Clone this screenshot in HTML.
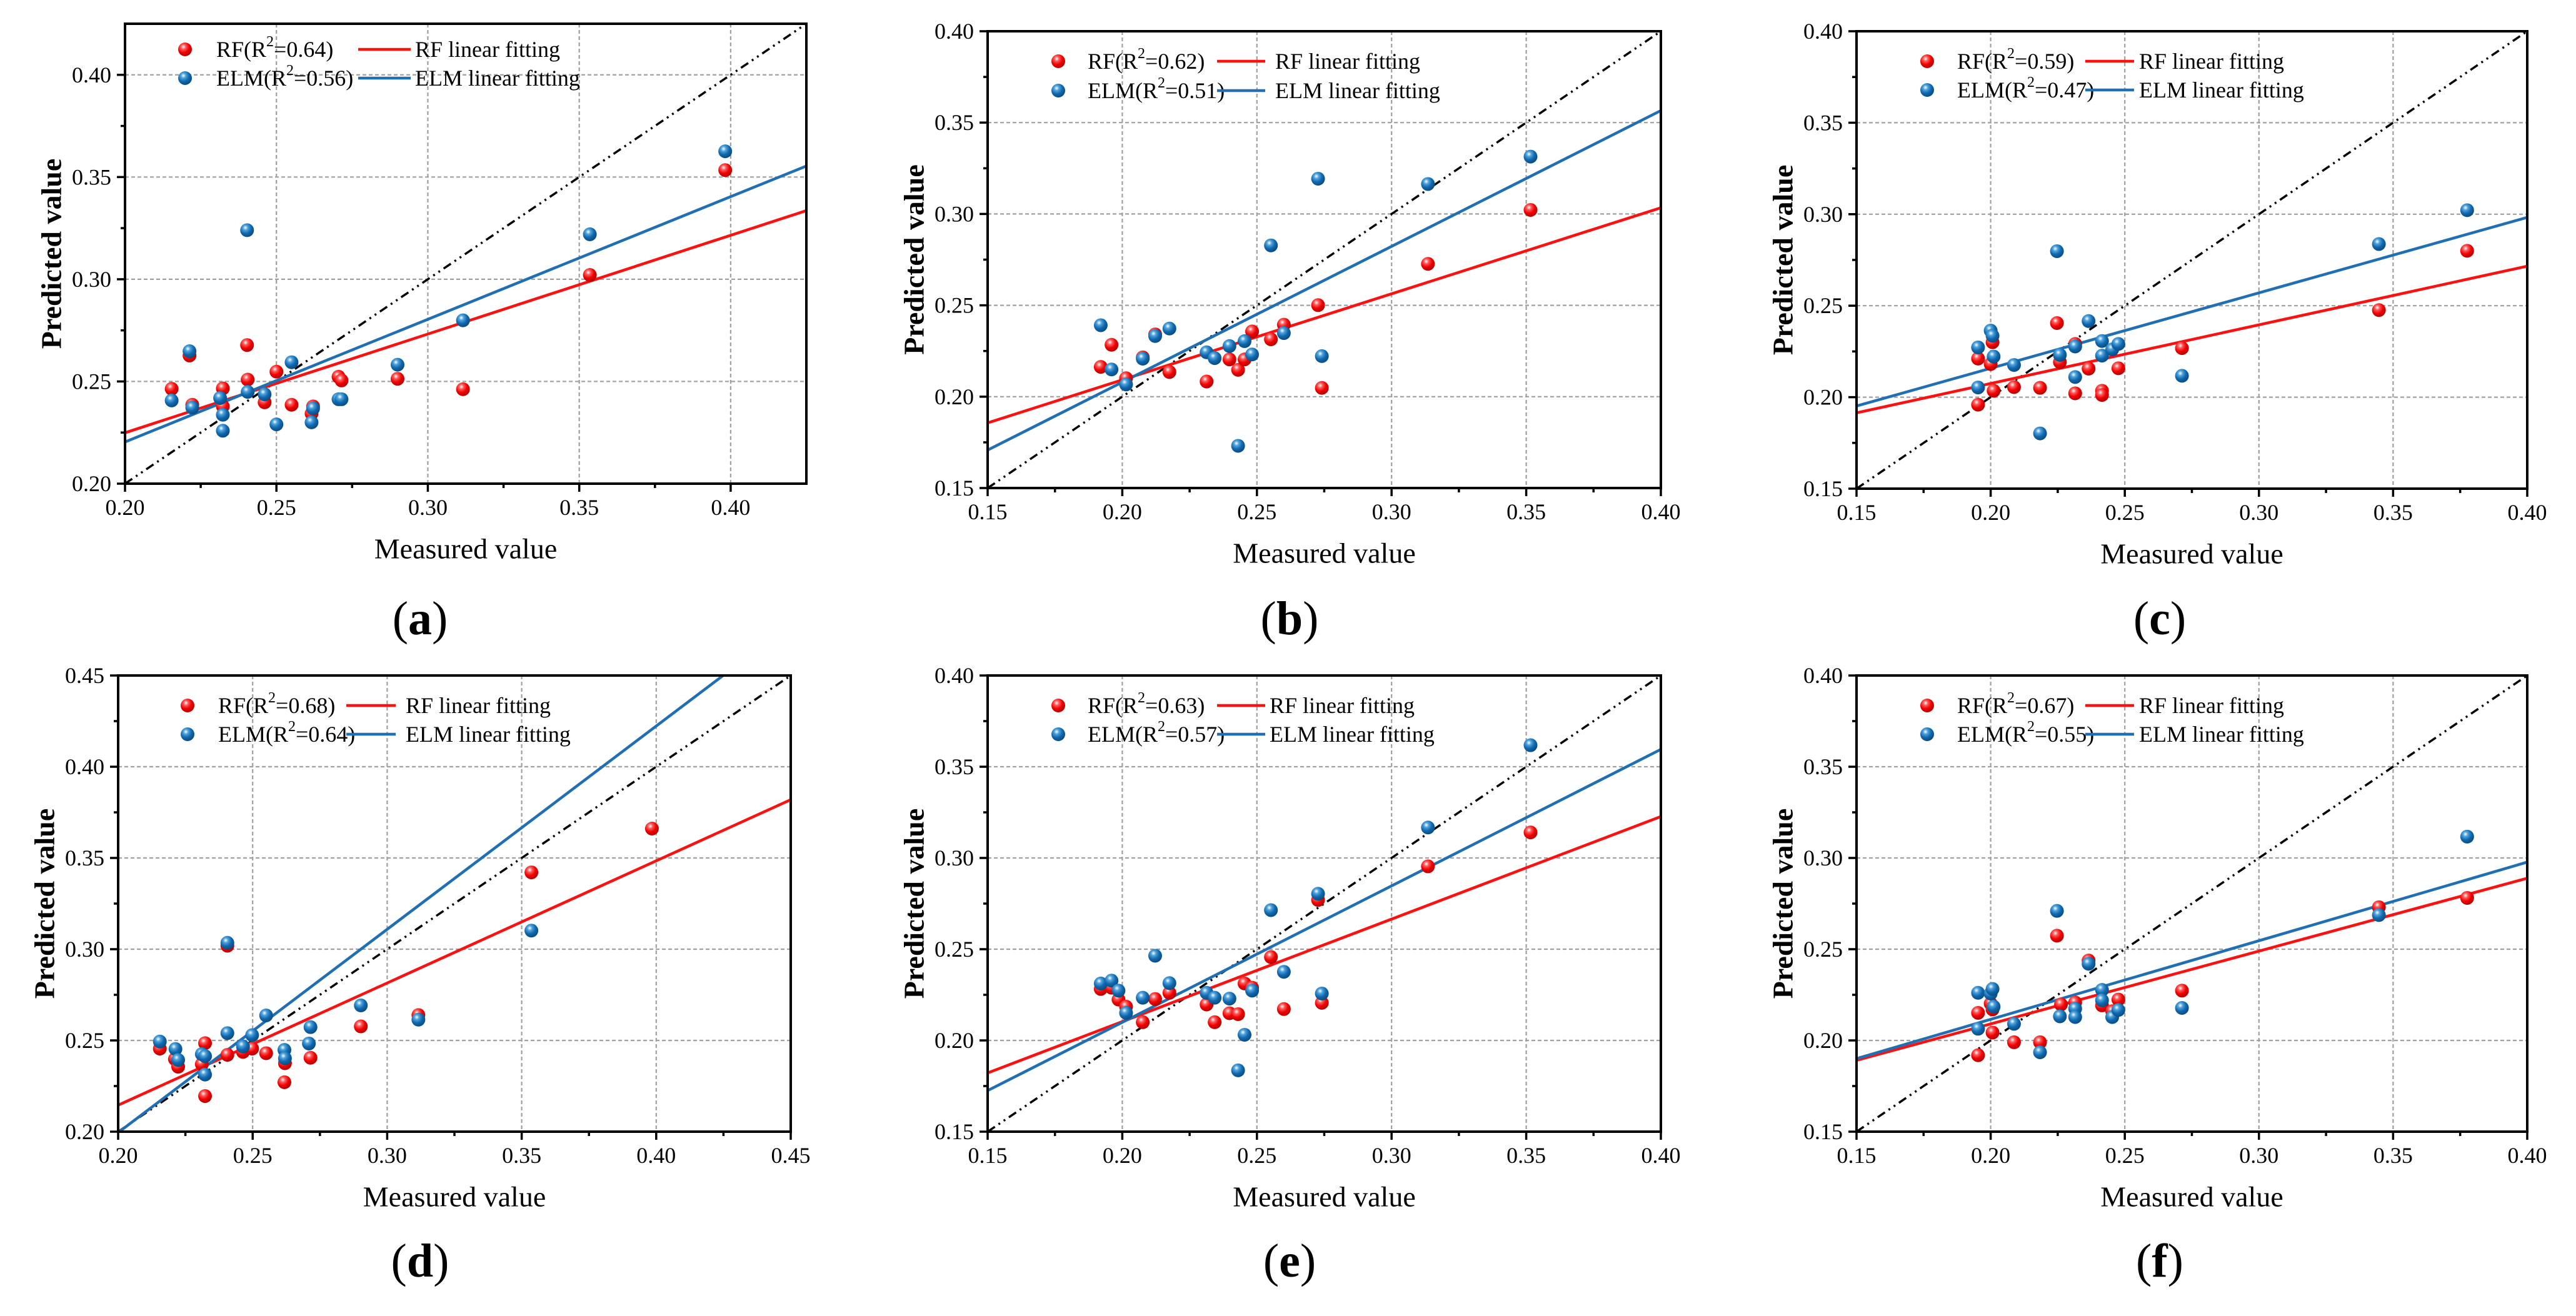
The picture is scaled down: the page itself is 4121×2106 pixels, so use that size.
<!DOCTYPE html>
<html><head><meta charset="utf-8"><style>
html,body{margin:0;padding:0;background:#fff;}
svg{display:block;font-family:"Liberation Serif","Times New Roman",serif;}
</style></head><body>
<svg id="fig" xmlns="http://www.w3.org/2000/svg" width="4121" height="2106" viewBox="0 0 4121 2106">
<defs>
<radialGradient id="gRed" cx="0.38" cy="0.32" r="0.7"><stop offset="0" stop-color="#ffffff"/><stop offset="0.25" stop-color="#ff5a5a"/><stop offset="0.6" stop-color="#f00000"/><stop offset="1" stop-color="#b00000"/></radialGradient>
<radialGradient id="gBlue" cx="0.38" cy="0.32" r="0.7"><stop offset="0" stop-color="#ffffff"/><stop offset="0.25" stop-color="#4fa3dd"/><stop offset="0.6" stop-color="#1068ad"/><stop offset="1" stop-color="#084a80"/></radialGradient>
</defs>
</svg>
<script>
// ---------- data (measured, predicted) ----------
const aMeasRF=[0.2154,0.2213,0.2222,0.2323,0.2323,0.2403,0.2405,0.2461,0.2500,0.2550,0.2616,0.2621,0.2705,0.2715,0.2900,0.3116,0.3535,0.3982];
const aPredRF=[0.2464,0.2627,0.2386,0.2466,0.2378,0.2678,0.2509,0.2398,0.2548,0.2386,0.2343,0.2378,0.2523,0.2505,0.2513,0.2462,0.3021,0.3534];
const aMeasELM=[0.2154,0.2213,0.2222,0.2314,0.2323,0.2323,0.2403,0.2405,0.2461,0.2500,0.2550,0.2616,0.2621,0.2705,0.2715,0.2900,0.3116,0.3535,0.3982];
const aPredELM=[0.2407,0.2648,0.2372,0.2419,0.2337,0.2259,0.3240,0.2449,0.2437,0.2290,0.2594,0.2300,0.2368,0.2413,0.2413,0.2582,0.2799,0.3220,0.3626];

const bMeasRF=[0.1920,0.1960,0.2014,0.2076,0.2122,0.2175,0.2313,0.2398,0.2430,0.2454,0.2482,0.2552,0.2600,0.2727,0.2741,0.3135,0.3516];
const bPredRF=[0.2163,0.2284,0.2101,0.2215,0.2341,0.2135,0.2083,0.2204,0.2147,0.2204,0.2357,0.2314,0.2394,0.2501,0.2048,0.2727,0.3022];
const bMeasELM=[0.1920,0.1960,0.2014,0.2076,0.2122,0.2175,0.2313,0.2343,0.2398,0.2430,0.2454,0.2482,0.2552,0.2600,0.2727,0.2741,0.3135,0.3516];
const bPredELM=[0.2391,0.2149,0.2067,0.2208,0.2332,0.2373,0.2243,0.2211,0.2277,0.1731,0.2304,0.2231,0.2828,0.2348,0.3193,0.2222,0.3164,0.3314];

const cMeasRF=[0.1953,0.1953,0.2000,0.2007,0.2011,0.2087,0.2184,0.2247,0.2258,0.2315,0.2315,0.2365,0.2415,0.2415,0.2476,0.2713,0.3447,0.3776];
const cPredRF=[0.1959,0.2211,0.2181,0.2300,0.2035,0.2055,0.2051,0.2405,0.2192,0.2291,0.2021,0.2156,0.2035,0.2012,0.2158,0.2268,0.2476,0.2800];
const cMeasELM=[0.1953,0.1953,0.2000,0.2007,0.2011,0.2087,0.2184,0.2247,0.2258,0.2315,0.2315,0.2365,0.2415,0.2415,0.2453,0.2476,0.2713,0.3447,0.3776];
const cPredELM=[0.2272,0.2053,0.2364,0.2336,0.2222,0.2176,0.1802,0.2798,0.2231,0.2277,0.2110,0.2416,0.2307,0.2227,0.2261,0.2291,0.2117,0.2837,0.3022];

const dMeasRF=[0.2155,0.2211,0.2223,0.2311,0.2323,0.2323,0.2406,0.2406,0.2464,0.2498,0.2550,0.2618,0.2620,0.2715,0.2902,0.3116,0.3536,0.3984];
const dPredRF=[0.2455,0.2398,0.2356,0.2370,0.2485,0.2195,0.2421,0.3019,0.2437,0.2455,0.2430,0.2271,0.2375,0.2405,0.2577,0.2639,0.3421,0.3661];
const dMeasELM=[0.2155,0.2213,0.2223,0.2311,0.2323,0.2323,0.2406,0.2406,0.2464,0.2498,0.2550,0.2618,0.2620,0.2709,0.2715,0.2902,0.3116,0.3536];
const dPredELM=[0.2494,0.2453,0.2393,0.2425,0.2414,0.2313,0.2540,0.3035,0.2467,0.2529,0.2637,0.2448,0.2402,0.2483,0.2573,0.2692,0.2614,0.3102];

const eMeasRF=[0.1920,0.1960,0.1986,0.2014,0.2076,0.2122,0.2175,0.2313,0.2343,0.2398,0.2430,0.2454,0.2482,0.2552,0.2600,0.2727,0.2741,0.3135,0.3516];
const ePredRF=[0.2282,0.2289,0.2224,0.2185,0.2100,0.2227,0.2261,0.2197,0.2100,0.2149,0.2144,0.2312,0.2289,0.2457,0.2172,0.2770,0.2206,0.2954,0.3140];
const eMeasELM=[0.1920,0.1960,0.1986,0.2014,0.2076,0.2122,0.2175,0.2313,0.2343,0.2398,0.2430,0.2454,0.2482,0.2552,0.2600,0.2727,0.2741,0.3135,0.3516];
const ePredELM=[0.2312,0.2328,0.2273,0.2151,0.2234,0.2464,0.2314,0.2261,0.2234,0.2229,0.1836,0.2031,0.2273,0.2714,0.2376,0.2804,0.2257,0.3167,0.3618];

const fMeasRF=[0.1953,0.1953,0.2000,0.2007,0.2007,0.2087,0.2184,0.2247,0.2262,0.2315,0.2365,0.2415,0.2453,0.2476,0.2713,0.3447,0.3776];
const fPredRF=[0.1919,0.2151,0.2202,0.2170,0.2043,0.1990,0.1990,0.2574,0.2197,0.2208,0.2438,0.2192,0.2160,0.2224,0.2273,0.2730,0.2781];
const fMeasELM=[0.1953,0.1953,0.2000,0.2007,0.2011,0.2087,0.2184,0.2247,0.2258,0.2315,0.2315,0.2365,0.2415,0.2415,0.2453,0.2476,0.2713,0.3447,0.3776];
const fPredELM=[0.2261,0.2064,0.2257,0.2282,0.2185,0.2091,0.1935,0.2710,0.2132,0.2174,0.2128,0.2420,0.2277,0.2220,0.2128,0.2167,0.2178,0.2687,0.3117];

// linear fits [slope, intercept]
const fitRF=[[0.483,0.1283],[0.471,0.1150],[0.3208,0.1433],[0.6696,0.0806],[0.562,0.0979],[0.3992,0.1292]];
const fitELM=[[0.600,0.1004],[0.7432,0.0593],[0.4124,0.1333],[1.114,-0.0233],[0.748,0.0603],[0.4308,0.1254]];
const r2RF=["0.64","0.62","0.59","0.68","0.63","0.67"];
const r2ELM=["0.56","0.51","0.47","0.64","0.57","0.55"];
const panelLetters=["a","b","c","d","e","f"];
const axisMin=[0.20,0.15,0.15,0.20,0.15,0.15];
const axisMax=[0.425,0.40,0.40,0.45,0.40,0.40];

// ---------- layout ----------
const NS="http://www.w3.org/2000/svg";
const svg=document.getElementById("fig");
const boxes=[
 {L:200,R:1290,T:38,B:774,lx:96,ly:41,lt:146,l1:373,l2:457,lt2:464,lr:46,px:672,py:990},
 {L:1580,R:2657,T:50,B:781,lx:113,ly:48,lt:160,l1:367,l2:444,lt2:460,lr:47,px:2063,py:990},
 {L:2970,R:4043,T:50,B:782,lx:113,ly:48,lt:161,l1:366,l2:444,lt2:452,lr:46,px:3455,py:990},
 {L:189,R:1265,T:1081,B:1811,lx:111,ly:48,lt:160,l1:365,l2:444,lt2:460,lr:46,px:672,py:2018},
 {L:1580,R:2657,T:1081,B:1811,lx:113,ly:48,lt:160,l1:367,l2:444,lt2:451,lr:46,px:2063,py:2018},
 {L:2970,R:4043,T:1081,B:1811,lx:113,ly:48,lt:161,l1:366,l2:444,lt2:452,lr:46,px:3455,py:2018}
];
const meas=[[aMeasRF,aMeasELM],[bMeasRF,bMeasELM],[cMeasRF,cMeasELM],[dMeasRF,dMeasELM],[eMeasRF,eMeasELM],[fMeasRF,fMeasELM]];
const pred=[[aPredRF,aPredELM],[bPredRF,bPredELM],[cPredRF,cPredELM],[dPredRF,dPredELM],[ePredRF,ePredELM],[fPredRF,fPredELM]];

function el(tag,attrs,parent){const e=document.createElementNS(NS,tag);for(const k in attrs)e.setAttribute(k,attrs[k]);(parent||svg).appendChild(e);return e;}

panelLetters.forEach((letter,i)=>{
 const b=boxes[i], mn=axisMin[i], mx=axisMax[i];
 const xs=v=>b.L+(v-mn)/(mx-mn)*(b.R-b.L);
 const ys=v=>b.B-(v-mn)/(mx-mn)*(b.B-b.T);
 const g=el("g",{});
 
 
 const cp=el("clipPath",{id:"clip"+i},g);
 el("rect",{x:b.L,y:b.T,width:b.R-b.L,height:b.B-b.T},cp);
 const ticks=[];for(let v=mn;v<=mx+1e-9;v+=0.05)ticks.push(+v.toFixed(3));
 const grid=el("g",{stroke:"#a0a0a0","stroke-width":2.2,"stroke-dasharray":"6 4"},g);
 
 
 ticks.forEach(v=>{
  if(v>mn+1e-9 && Math.abs(xs(v)-b.R)>3) el("line",{x1:xs(v),x2:xs(v),y1:b.T,y2:b.B},grid);
  if(v>mn+1e-9 && Math.abs(ys(v)-b.T)>3) el("line",{x1:b.L,x2:b.R,y1:ys(v),y2:ys(v)},grid);
 });
 const plot=el("g",{"clip-path":"url(#clip"+i+")"},g);
 const diag=el("line",{x1:xs(mn),y1:ys(mn),x2:xs(mx),y2:ys(mx),stroke:"#000","stroke-width":3.5,"stroke-dasharray":"14 7 3 7 3 7"},plot);
 
 
 [[fitRF[i],"#ff1010","rf-fit-line"],[fitELM[i],"#1f6fb2","elm-fit-line"]].forEach(([f,c,n])=>{
  const ln=el("line",{x1:xs(mn),y1:ys(f[0]*mn+f[1]),x2:xs(mx),y2:ys(f[0]*mx+f[1]),stroke:c,"stroke-width":4.5},plot);
  
  
 });
 [["url(#gRed)","rf-point",0],["url(#gBlue)","elm-point",1]].forEach(([fill,n,s])=>{
  meas[i][s].forEach((m,k)=>{
   const p=el("circle",{cx:xs(m),cy:ys(pred[i][s][k]),r:11,fill:fill},plot);
   
   
  });
 });
 const fr=el("rect",{x:b.L,y:b.T,width:b.R-b.L,height:b.B-b.T,fill:"none",stroke:"#000","stroke-width":4},g);
 
 
 const tg=el("g",{stroke:"#000","stroke-width":3.5},g);
 ticks.forEach(v=>{
  el("line",{x1:xs(v),x2:xs(v),y1:b.B,y2:b.B+13},tg);
  el("line",{x1:b.L-13,x2:b.L,y1:ys(v),y2:ys(v)},tg);
  const h=v+0.025;
  if(h<mx-1e-9){el("line",{x1:xs(h),x2:xs(h),y1:b.B,y2:b.B+7},tg);el("line",{x1:b.L-7,x2:b.L,y1:ys(h),y2:ys(h)},tg);}
  if(v<=mx){
   const xl=el("text",{x:xs(v),y:b.B+38,"font-size":36,"text-anchor":"middle","dominant-baseline":"central"},g);
   xl.textContent=v.toFixed(2);
   
   
   const yl=el("text",{x:b.L-22,y:ys(v),"font-size":36,"text-anchor":"end","dominant-baseline":"central"},g);
   yl.textContent=v.toFixed(2);
   
   
  }
 });
 const xt=el("text",{x:(b.L+b.R)/2,y:b.B+104,"font-size":46,"text-anchor":"middle","dominant-baseline":"central"},g);
 xt.textContent="Measured value";
 
 
 const yx=b.L-118, yy=(b.T+b.B)/2;
 const yt=el("text",{x:yx,y:yy,"font-size":46,"font-weight":"bold","text-anchor":"middle","dominant-baseline":"central",transform:"rotate(-90 "+yx+" "+yy+")"},g);
 yt.textContent="Predicted value";
 
 
 const lg=el("g",{},g);
 
 
 const rows=[["url(#gRed)","#ff1010","RF",r2RF[i],"RF linear fitting"],["url(#gBlue)","#1f6fb2","ELM",r2ELM[i],"ELM linear fitting"]];
 rows.forEach((r,k)=>{
  const y=b.T+b.ly+k*b.lr;
  const mk=el("circle",{cx:b.L+b.lx,cy:y,r:11,fill:r[0]},lg);
  
  
  const t=el("text",{x:b.L+b.lt,y:y,"font-size":36,"dominant-baseline":"central"},lg);
  t.innerHTML=r[2]+"(R<tspan dy=\"-12\" font-size=\"24\">2</tspan><tspan dy=\"12\">="+r[3]+")</tspan>";
  
  
  const ln=el("line",{x1:b.L+b.l1,x2:b.L+b.l2,y1:y,y2:y,stroke:r[1],"stroke-width":4.5},lg);
  
  
  const t2=el("text",{x:b.L+b.lt2,y:y,"font-size":36,"dominant-baseline":"central"},lg);
  t2.textContent=r[4];
  
  
 });
 const pl=el("text",{x:b.px,y:b.py,"font-size":76,"text-anchor":"middle","dominant-baseline":"central"},g);
 pl.innerHTML="(<tspan font-weight=\"bold\">"+letter+"</tspan>)";
 
 
});
</script>
</body></html>
